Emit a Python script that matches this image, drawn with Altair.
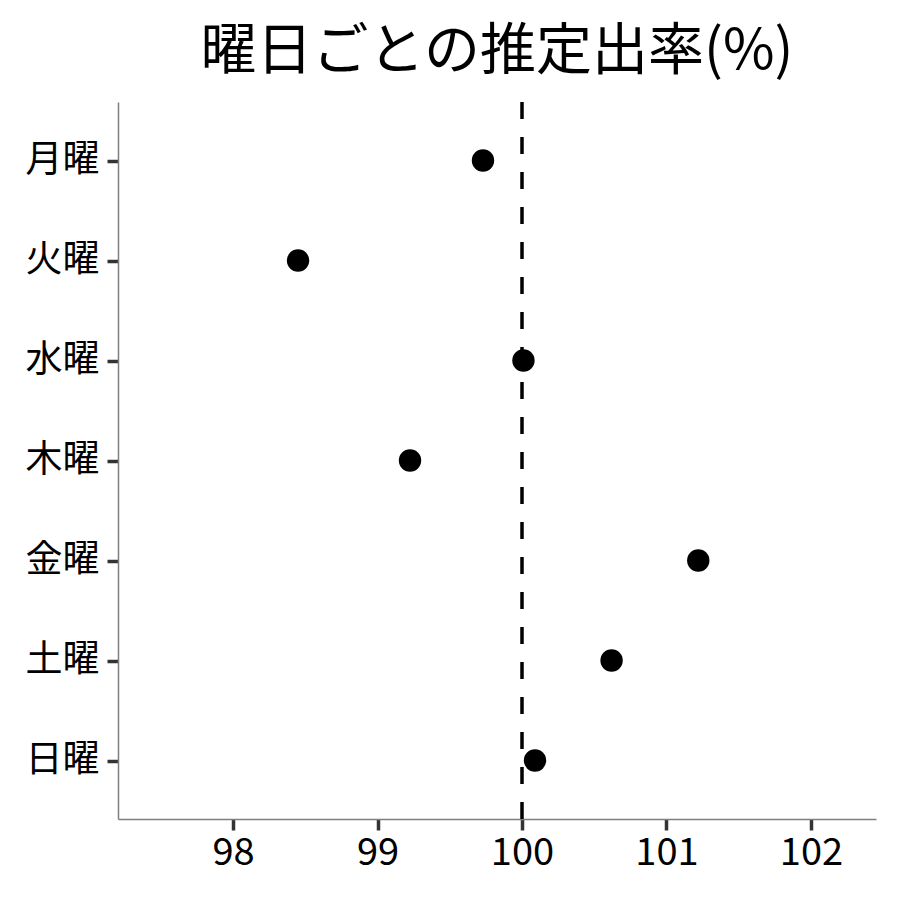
import altair as alt
import pandas as pd

days = ["月曜", "火曜", "水曜", "木曜", "金曜", "土曜", "日曜"]
rates = [99.73, 98.45, 100.01, 99.225, 101.22, 100.62, 100.09]
ref_value = [100]
x_ticks = [98, 99, 100, 101, 102]

df = pd.DataFrame({"day": days, "rate": rates})
ref = pd.DataFrame({"x": ref_value})

FONT = "Noto Sans CJK JP"

xscale = alt.Scale(domain=[97.204, 102.45], nice=False, zero=False)

points = alt.Chart(df).mark_circle(size=500, color="black", opacity=1).encode(
    x=alt.X("rate:Q", scale=xscale,
            axis=alt.Axis(title=None, values=x_ticks, grid=False, domainColor="#7f7f7f",
                          domainWidth=1.5, tickColor="#333333", tickWidth=3.5, tickSize=11,
                          labelFontSize=38, labelFont=FONT, labelColor="black", labelPadding=4,
                          format="d")),
    y=alt.Y("day:N", sort=days, scale=alt.Scale(type="point", padding=0.585),
            axis=alt.Axis(title=None, grid=False, domainColor="#7f7f7f", domainWidth=1.5,
                          tickColor="#333333", tickWidth=3.5, tickSize=11,
                          labelFontSize=37, labelFont=FONT, labelColor="black", labelPadding=8)),
)

rule = alt.Chart(ref).mark_rule(color="black", strokeWidth=3.5, strokeDash=[17, 18]).encode(
    x=alt.X("x:Q", scale=xscale)
)

chart = alt.layer(rule, points).properties(
    width=758, height=717,
    title=alt.TitleParams("曜日ごとの推定出率(%)", font=FONT, fontSize=56, fontWeight="normal",
                          color="black", anchor="middle", offset=19),
    padding={"left": 110, "top": 94, "right": 16, "bottom": 73},
    autosize=alt.AutoSizeParams(type="none"),
    background="white",
).configure_view(strokeWidth=0, stroke="transparent")

chart.save("out.html", embed_options={"renderer": "svg", "actions": False})
